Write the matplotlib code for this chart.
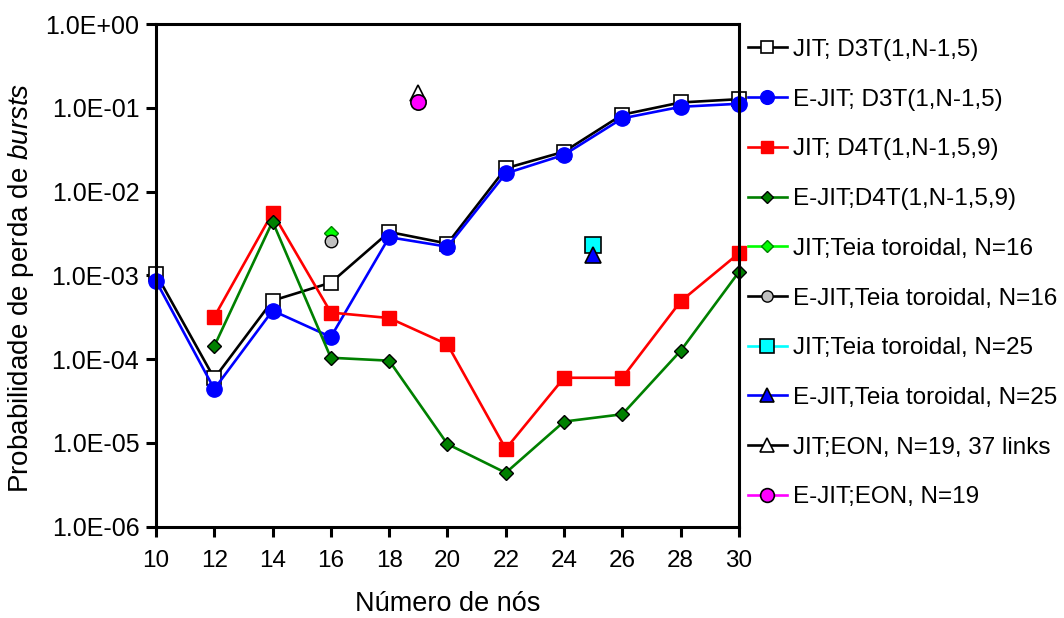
import matplotlib
matplotlib.use("Agg")
import matplotlib.pyplot as plt
from matplotlib.ticker import FixedLocator, FuncFormatter, NullLocator

plt.rcParams['font.family'] = ['Liberation Sans', 'DejaVu Sans']
plt.rcParams['mathtext.fontset'] = 'custom'
plt.rcParams['mathtext.rm'] = 'Liberation Sans'
plt.rcParams['mathtext.it'] = 'Liberation Sans:italic'

# numero de nos
nos = [10, 12, 14, 16, 18, 20, 22, 24, 26, 28, 30]
nos_d4t = [12, 14, 16, 18, 20, 22, 24, 26, 28, 30]

jit_d3t = [1.05e-3, 5.9e-5, 5.0e-4, 8.2e-4, 3.3e-3, 2.4e-3, 1.9e-2, 3.0e-2, 8.3e-2, 1.16e-1, 1.27e-1]
ejit_d3t = [8.6e-4, 4.4e-5, 3.8e-4, 1.84e-4, 2.86e-3, 2.2e-3, 1.65e-2, 2.75e-2, 7.5e-2, 1.03e-1, 1.12e-1]
jit_d4t = [3.2e-4, 5.6e-3, 3.6e-4, 3.1e-4, 1.5e-4, 8.5e-6, 6.0e-5, 6.0e-5, 4.9e-4, 1.84e-3]
ejit_d4t = [1.43e-4, 4.4e-3, 1.04e-4, 9.6e-5, 9.7e-6, 4.4e-6, 1.8e-5, 2.2e-5, 1.26e-4, 1.1e-3]

# topologias avaliadas num unico ponto
jit_teia16 = 3.2e-3
ejit_teia16 = 2.6e-3
jit_teia25 = 2.28e-3
ejit_teia25 = 1.73e-3
jit_eon = 1.5e-1
ejit_eon = 1.18e-1

y_ticks = [1e0, 1e-1, 1e-2, 1e-3, 1e-4, 1e-5, 1e-6]

fig = plt.figure(figsize=(10.64, 6.18), dpi=100)
ax = fig.add_axes([0.1466, 0.1477, 0.5479, 0.8133])

lw = 1.9
kw = dict(clip_on=False, linewidth=lw)

ax.plot(nos, jit_d3t, color='black', marker='s', markersize=10, markerfacecolor='white',
        markeredgecolor='black', markeredgewidth=1.2, label='JIT; D3T(1,N-1,5)', **kw)
ax.plot(nos, ejit_d3t, color='blue', marker='o', markersize=11, markerfacecolor='blue',
        markeredgecolor='blue', label='E-JIT; D3T(1,N-1,5)', **kw)
ax.plot(nos_d4t, jit_d4t, color='red', marker='s', markersize=10, markerfacecolor='red',
        markeredgecolor='red', label='JIT; D4T(1,N-1,5,9)', **kw)
ax.plot(nos_d4t, ejit_d4t, color='green', marker='D', markersize=7, markerfacecolor='green',
        markeredgecolor='black', markeredgewidth=1.0, label='E-JIT;D4T(1,N-1,5,9)', **kw)

ax.plot([16], [jit_teia16], color='#00ff00', marker='D', markersize=7, markerfacecolor='#00ff00',
        markeredgecolor='green', markeredgewidth=1.0, label='JIT;Teia toroidal, N=16', **kw)
ax.plot([16], [ejit_teia16], color='black', marker='o', markersize=9, markerfacecolor='#c0c0c0',
        markeredgecolor='black', markeredgewidth=1.0, label='E-JIT,Teia toroidal, N=16', **kw)
ax.plot([25], [jit_teia25], color='cyan', marker='s', markersize=11, markerfacecolor='cyan',
        markeredgecolor='black', markeredgewidth=1.2, label='JIT;Teia toroidal, N=25', **kw)
ax.plot([25], [ejit_teia25], color='blue', marker='^', markersize=11, markerfacecolor='blue',
        markeredgecolor='black', markeredgewidth=1.2, label='E-JIT,Teia toroidal, N=25', **kw)
ax.plot([19], [jit_eon], color='black', marker='^', markersize=11, markerfacecolor='white',
        markeredgecolor='black', markeredgewidth=1.2, label='JIT;EON, N=19, 37 links', **kw)
ax.plot([19], [ejit_eon], color='magenta', marker='o', markersize=11, markerfacecolor='magenta',
        markeredgecolor='black', markeredgewidth=1.2, label='E-JIT;EON, N=19', **kw)

ax.set_yscale('log')
ax.set_ylim(1e-6, 1e0)
ax.set_xlim(10, 30)
ax.set_xticks(nos)
ax.yaxis.set_major_locator(FixedLocator(y_ticks))
ax.yaxis.set_minor_locator(NullLocator())
ax.yaxis.set_major_formatter(FuncFormatter(lambda v, p: '%.1E' % v))

for s in ax.spines.values():
    s.set_linewidth(2.2)
ax.tick_params(axis='both', direction='out', length=7, width=2.2)
ax.tick_params(axis='y', labelsize=18, pad=5)
ax.tick_params(axis='x', labelsize=17.5, pad=10)

ax.set_xlabel('Número de nós', fontsize=19.5)
ax.set_ylabel(r'Probabilidade de perda de $\it{bursts}$', fontsize=20)
ax.xaxis.set_label_coords(0.5, -0.128)
ax.yaxis.set_label_coords(-0.205, 0.475)

fig.legend(loc='upper left', bbox_to_anchor=(0.703, 0.937), frameon=False, fontsize=17.5,
           handlelength=1.6, handletextpad=0.25, labelspacing=1.14, markerscale=0.9,
           borderaxespad=0, borderpad=0)

fig.savefig('out.png', dpi=100)
